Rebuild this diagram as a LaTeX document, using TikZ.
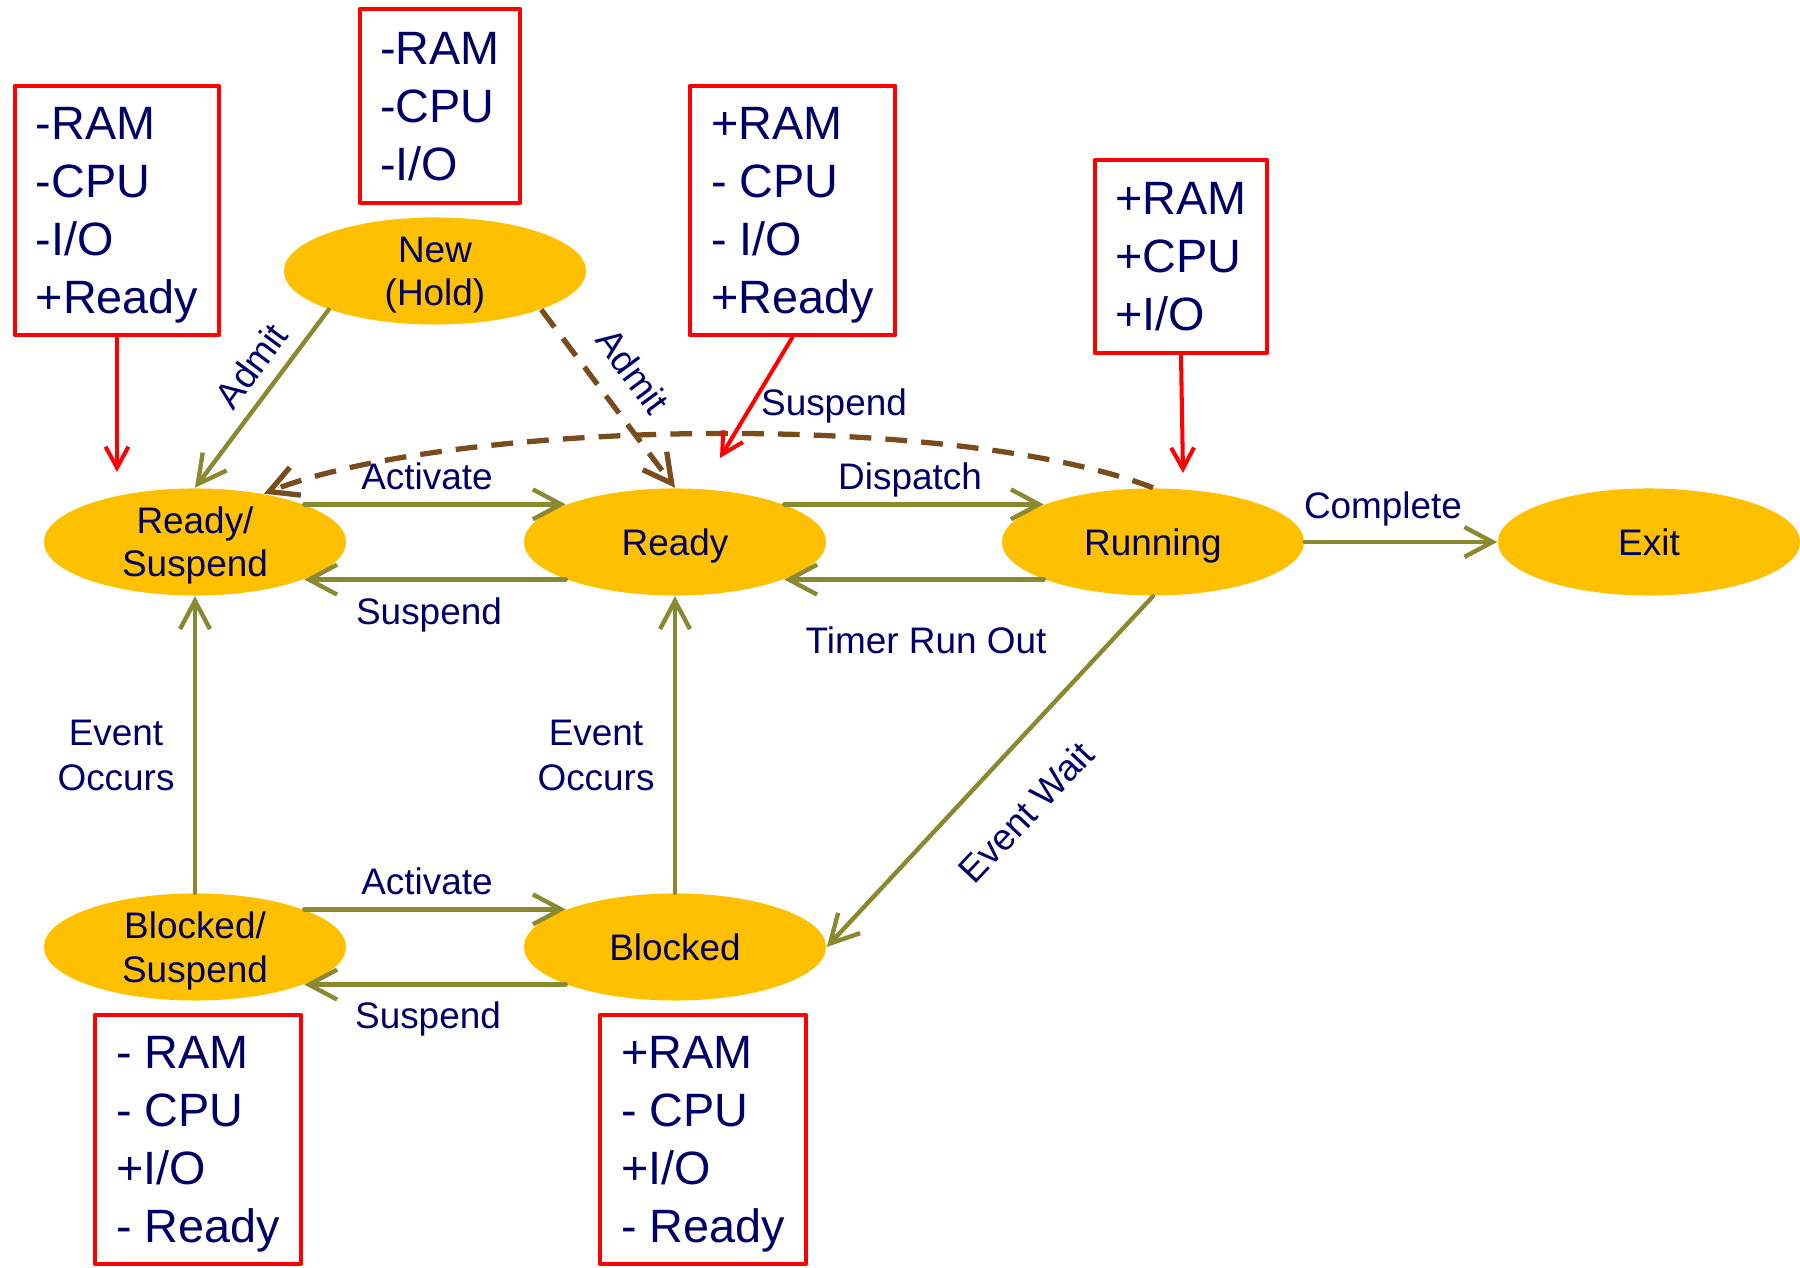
\documentclass[tikz,border=0pt]{standalone}
\usepackage{fontspec}
\setmainfont{Liberation Sans}
\usepackage{tikz}
\usetikzlibrary{arrows.meta}
\usetikzlibrary{shapes.geometric}
\definecolor{stategold}{RGB}{255,192,0}
\definecolor{arrowolive}{RGB}{137,137,50}
\definecolor{dashbrown}{RGB}{120,76,28}
\definecolor{textnavy}{RGB}{0,0,102}

\begin{document}
\begin{tikzpicture}[
		% slide grid: x to the right, y downwards
		x=0.01cm, y=-0.01cm,
		line join=round, line cap=round,
		state/.style={ellipse, fill=stategold, text=textnavy, inner sep=0pt,
				minimum width=3.02cm, minimum height=1.07cm, align=center,
				font=\fontsize{10.5}{12.3}\selectfont},
		oneline/.style={text depth=0pt},
		lbl/.style={text=textnavy, inner sep=0pt, align=center,
				font=\fontsize{10.5}{12.8}\selectfont},
		flow/.style={draw=arrowolive, line width=1.25pt,
				-{Straight Barb[length=8pt,width=8.5pt]}},
		back/.style={draw=dashbrown, line width=1.5pt, line cap=butt,
				dash pattern=on 6.2pt off 4pt,
				-{Straight Barb[length=8pt,width=8.5pt]}},
		resbox/.style={draw=red, line width=1.15pt, text=textnavy, align=left,
				inner sep=0pt, font=\fontsize{13.3}{16.5}\selectfont},
		pointer/.style={draw=red, line width=1.15pt,
				-{Straight Barb[length=6pt,width=6.5pt]}}
	]

	\useasboundingbox (0,0) rectangle (1800,1268);

	%-------------------
	% States
	%-------------------
	\node[state]          (new)  at (435,271)  {New\\\smash{(Hold)}};
	\node[state]          (rs)   at (195,542)  {Ready/\\\smash{Suspend}};
	\node[state, oneline] (rd)   at (675,542)  {Ready};
	\node[state, oneline] (run)  at (1153,542) {Running};
	\node[state, oneline] (exit) at (1649,542) {Exit};
	\node[state]          (bs)   at (195,947)  {Blocked/\\\smash{Suspend}};
	\node[state, oneline] (bl)   at (675,947)  {Blocked};

	%-------------------
	% Transitions
	%-------------------
	\draw[flow] (new.200) -- (rs.north);
	\draw[back] (new.340) -- (rd.north);
	\draw[back] (run.north) .. controls (950,410) and (450,420) .. (rs.35);

	% pairs of parallel arrows
	\foreach \a/\b in {rs/rd, rd/run, bs/bl} {
			\draw[flow] (\a.19) -- (\b.161);
			\draw[flow] (\b.199) -- (\a.341);
		}
	\draw[flow] (run.east) -- (exit.west);
	\draw[flow] (run.south) -- (bl.east);
	\draw[flow] (bs.north) -- (rs.south);
	\draw[flow] (bl.north) -- (rd.south);

	%-------------------
	% Labels
	%-------------------
	\node[lbl, rotate=53.6]  (admitA) at (251,366) {Admit};
	\node[lbl, rotate=-53.6] (admitB) at (633,371) {Admit};
	\node[lbl, anchor=base] (suspC) at (834,416) {Suspend};
	\node[lbl, anchor=base] (actA)  at (427,490) {Activate};
	\node[lbl, anchor=base] (suspA) at (429,625) {Suspend};
	\node[lbl, anchor=base] (disp)  at (910,490) {Dispatch};
	\node[lbl, anchor=base] (timer) at (926,654) {Timer Run Out};
	\node[lbl, anchor=base] (done)  at (1383,519) {Complete};
	\node[lbl, anchor=base] (actB)  at (427,895) {Activate};
	\node[lbl, anchor=base] (suspB) at (428,1029) {Suspend};
	\node[lbl] (occA) at (116,755) {Event\\Occurs};
	\node[lbl] (occB) at (596,755) {Event\\Occurs};
	\node[lbl, rotate=46.7] (wait) at (1026,812) {Event Wait};

	%-------------------
	% Resource boxes
	%-------------------
	\newcommand{\costbox}[6]{% name, x, y, width, height, lines
		\node[resbox, minimum width=#4, minimum height=#5] (#1) at (#2,#3) {#6};
	}
	\costbox{b1}{117}{210.5}{2.04cm}{2.49cm}{-RAM\\-CPU\\-I/O\\\smash{+Ready}}
	\costbox{b2}{440}{106}{1.60cm}{1.94cm}{-RAM\\-CPU\\\smash{-I/O}}
	\costbox{b3}{792.5}{210.5}{2.05cm}{2.49cm}{+RAM\\- CPU\\- I/O\\\smash{+Ready}}
	\costbox{b4}{1181}{256.5}{1.72cm}{1.93cm}{+RAM\\+CPU\\\smash{+I/O}}
	\costbox{b5}{198}{1139.5}{2.06cm}{2.49cm}{- RAM\\- CPU\\+I/O\\\smash{- Ready}}
	\costbox{b6}{703}{1139.5}{2.06cm}{2.49cm}{+RAM\\- CPU\\+I/O\\\smash{- Ready}}

	% pointers to the states
	\coordinate (pRS)  at (117,472);
	\coordinate (pRD)  at (720,458);
	\coordinate (pRun) at (1183,473);
	\draw[pointer] (b1.south) -- (pRS);
	\draw[pointer] (b3.south) -- (pRD);
	\draw[pointer] (b4.south) -- (pRun);

\end{tikzpicture}
\end{document}
